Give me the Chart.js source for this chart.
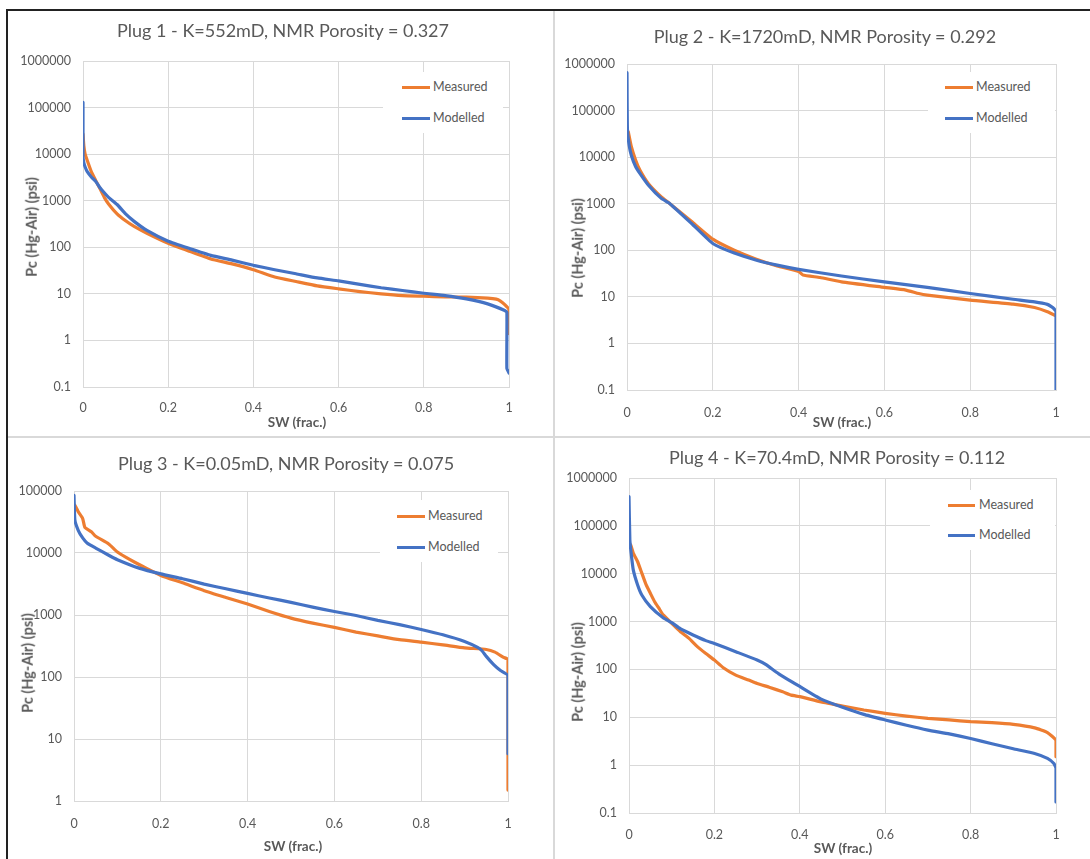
<!DOCTYPE html>
<html><head><meta charset="utf-8">
<script src="https://cdn.jsdelivr.net/npm/chart.js@4.4.1/dist/chart.umd.min.js"></script>
<style>
body{margin:0;background:#fff;}
#wrap{position:relative;width:1090px;height:859px;overflow:hidden;background:#fff;font-family:Lato,"Open Sans",sans-serif;color:#595959;}
.abs{position:absolute;}
.ctr{position:absolute;white-space:nowrap;transform:translate(-50%,-50%);line-height:1;}
.title{font-size:18px;}
.xt{font-size:13.5px;font-weight:bold;}
.yt{font-size:14.5px;font-weight:bold;transform:translate(-50%,-50%) rotate(-90deg);}
.lgbox{position:absolute;background:#fff;}
.lgline{position:absolute;height:3px;}
.lgtxt{position:absolute;font-size:12.5px;white-space:nowrap;transform:translateY(-50%);line-height:1;}
canvas{position:absolute;}
</style></head>
<body><div id="wrap"></div>
<script>
// ---------------- DATA ----------------
const titles = [
  "Plug 1 - K=552mD, NMR Porosity = 0.327",
  "Plug 2 - K=1720mD, NMR Porosity = 0.292",
  "Plug 3 - K=0.05mD, NMR Porosity = 0.075",
  "Plug 4 - K=70.4mD, NMR Porosity = 0.112"
];
const seriesNames = ["Measured", "Modelled"];
const xAxisTitle = "SW (frac.)";
const yAxisTitle = "Pc (Hg-Air) (psi)";
const xTicks = [0, 0.2, 0.4, 0.6, 0.8, 1];
const yTicksA = [0.1, 1, 10, 100, 1000, 10000, 100000, 1000000];
const yTicksB = [1, 10, 100, 1000, 10000, 100000];

const sw1Meas = [0, 0.002, 0.005, 0.01, 0.02, 0.03, 0.04, 0.05, 0.06, 0.08, 0.1, 0.12, 0.15, 0.2, 0.25, 0.3, 0.35, 0.4, 0.45, 0.5, 0.55, 0.6, 0.65, 0.7, 0.75, 0.8, 0.85, 0.9, 0.95, 0.97, 0.98, 0.99, 1.0, 1.0];
const pc1Meas = [27000, 15000, 10000, 7300, 4100, 2700, 1800, 1180, 850, 520, 370, 280, 200, 122, 82, 56, 44, 33, 23, 18.4, 14.8, 12.8, 11.2, 10, 9.2, 8.9, 8.6, 8.5, 8.1, 7.7, 7.0, 5.9, 4.6, 1.4];
const sw1Mod = [0, 0, 0.002, 0.005, 0.01, 0.02, 0.03, 0.04, 0.05, 0.06, 0.08, 0.1, 0.12, 0.15, 0.2, 0.25, 0.3, 0.35, 0.4, 0.45, 0.5, 0.55, 0.6, 0.65, 0.7, 0.75, 0.8, 0.85, 0.9, 0.95, 0.99, 0.995, 0.995, 1.0];
const pc1Mod = [130000, 9000, 6500, 5300, 4200, 3200, 2600, 1900, 1480, 1180, 830, 520, 360, 230, 135, 94, 67, 53, 41, 33, 27, 22, 19, 16, 13.5, 11.8, 10.3, 9.2, 7.8, 6.1, 4.4, 4.0, 0.25, 0.2];

const sw2Meas = [0.003, 0.01, 0.02, 0.03, 0.05, 0.08, 0.1, 0.15, 0.2, 0.25, 0.3, 0.35, 0.4, 0.41, 0.45, 0.5, 0.6, 0.65, 0.68, 0.7, 0.8, 0.9, 0.95, 0.98, 1.0];
const pc2Meas = [35000, 17000, 8700, 5300, 2700, 1400, 1000, 420, 173, 100, 65, 46, 35, 29.5, 26, 21, 16, 14, 11.8, 10.9, 8.5, 7, 5.9, 4.8, 3.9];
const sw2Mod = [0, 0.001, 0.005, 0.01, 0.02, 0.03, 0.05, 0.08, 0.1, 0.15, 0.2, 0.25, 0.3, 0.35, 0.4, 0.5, 0.6, 0.7, 0.8, 0.9, 0.95, 0.98, 0.99, 0.995, 1.0, 1.0];
const pc2Mod = [650000, 40000, 18000, 11000, 6300, 4500, 2500, 1300, 1000, 380, 140, 87, 62, 48, 39, 28, 21, 16, 11.8, 8.9, 7.8, 6.9, 6.1, 5.6, 4.8, 0.1];

const sw3Meas = [0.002, 0.01, 0.02, 0.025, 0.04, 0.05, 0.08, 0.1, 0.12, 0.14, 0.16, 0.2, 0.25, 0.3, 0.35, 0.4, 0.45, 0.5, 0.55, 0.6, 0.65, 0.7, 0.75, 0.8, 0.85, 0.9, 0.95, 0.97, 0.99, 1.0, 1.0];
const pc3Meas = [59000, 46000, 36000, 26000, 22000, 18600, 14000, 10400, 8500, 7100, 6000, 4350, 3300, 2470, 1920, 1500, 1140, 890, 740, 630, 530, 460, 400, 365, 330, 295, 278, 252, 207, 192, 1.5];
const sw3Mod = [0, 0.002, 0.01, 0.02, 0.03, 0.05, 0.08, 0.1, 0.15, 0.2, 0.25, 0.3, 0.35, 0.4, 0.45, 0.5, 0.55, 0.6, 0.65, 0.7, 0.75, 0.8, 0.85, 0.9, 0.93, 0.94, 0.95, 0.967, 0.982, 1.0, 1.0];
const pc3Mod = [85000, 34000, 23000, 17500, 14500, 12000, 9200, 7800, 5700, 4600, 3850, 3150, 2650, 2230, 1880, 1600, 1340, 1140, 980, 820, 700, 585, 480, 375, 300, 265, 215, 158, 128, 105, 5.8];

const sw4Meas = [0.004, 0.01, 0.02, 0.03, 0.04, 0.05, 0.06, 0.07, 0.08, 0.1, 0.12, 0.14, 0.16, 0.18, 0.2, 0.22, 0.25, 0.28, 0.3, 0.33, 0.36, 0.38, 0.4, 0.45, 0.5, 0.55, 0.6, 0.65, 0.7, 0.75, 0.8, 0.85, 0.9, 0.95, 0.98, 1.0, 1.0];
const pc4Meas = [40000, 27000, 18000, 10300, 5900, 3900, 2600, 1900, 1380, 920, 620, 450, 300, 215, 157, 110, 76, 60, 51, 42, 34, 29, 27, 21, 17.2, 14.2, 12.1, 10.6, 9.5, 8.8, 8.1, 7.7, 7.1, 6.0, 4.8, 3.3, 1.5];
const sw4Mod = [0, 0.002, 0.005, 0.01, 0.02, 0.03, 0.05, 0.08, 0.1, 0.12, 0.15, 0.18, 0.2, 0.25, 0.3, 0.32, 0.35, 0.4, 0.45, 0.5, 0.55, 0.6, 0.65, 0.7, 0.75, 0.8, 0.85, 0.9, 0.95, 0.98, 0.995, 1.0, 1.0];
const pc4Mod = [410000, 51000, 27000, 12000, 5900, 3600, 2060, 1200, 950, 710, 525, 400, 350, 235, 157, 127, 82, 44, 24, 16.2, 11.5, 8.8, 6.8, 5.4, 4.5, 3.6, 2.8, 2.2, 1.75, 1.38, 1.08, 0.85, 0.17];

// ---------------- LAYOUT ----------------
const ORANGE = "#ED7D31", BLUE = "#4472C4";
const panels = [
  {canvas:[9,11,543,425], plot:[83,61,509,387], yTicks:yTicksA, meas:[sw1Meas,pc1Meas], mod:[sw1Mod,pc1Mod],
   title:[283,30], xt:[297,423], yt:[32,227], lg:{box:[383,72,120,61], line:[402,430], txt:433, y:[87,118]}, xpad:13},
  {canvas:[556,11,534,425], plot:[627,64,1056,390], yTicks:yTicksA, meas:[sw2Meas,pc2Meas], mod:[sw2Mod,pc2Mod],
   title:[825,36], xt:[842,423], yt:[578,248], lg:{box:[928,72,127,61], line:[945,973], txt:976, y:[87,118]}, xpad:15},
  {canvas:[9,439,543,420], plot:[74,491,508,801], yTicks:yTicksB, meas:[sw3Meas,pc3Meas], mod:[sw3Mod,pc3Mod],
   title:[286,463], xt:[293,847], yt:[28,663], lg:{box:[380,500,118,62], line:[397,425], txt:428, y:[516,547]}, xpad:15},
  {canvas:[556,439,534,420], plot:[629,478,1056,813], yTicks:yTicksA, meas:[sw4Meas,pc4Meas], mod:[sw4Mod,pc4Mod],
   title:[837,457], xt:[843,849], yt:[578,672], lg:{box:[930,490,125,60], line:[948,975], txt:979, y:[505,535]}, xpad:14}
];

const wrap = document.getElementById('wrap');
function el(tag, cls, css, text){ const e=document.createElement(tag); if(cls) e.className=cls; Object.assign(e.style, css||{}); if(text!=null) e.textContent=text; wrap.appendChild(e); return e; }

// frame lines
el('div','abs',{left:'6px',top:'9px',width:'1084px',height:'2px',background:'#222'});
el('div','abs',{left:'6px',top:'9px',width:'2px',height:'850px',background:'#222'});
el('div','abs',{left:'553px',top:'11px',width:'2px',height:'848px',background:'#d9d9d9'});
el('div','abs',{left:'8px',top:'436px',width:'1082px',height:'2px',background:'#d9d9d9'});

function toPts(xs, ys){ return xs.map((x,i)=>({x:x, y:ys[i]})); }

panels.forEach((p, idx) => {
  const [cx, cy, cw, ch] = p.canvas;
  const [pl, pt, pr, pb] = p.plot;
  const cv = el('canvas', null, {left:cx+'px', top:cy+'px', width:cw+'px', height:ch+'px'});
  cv.width = cw; cv.height = ch;
  const yW = pl - cx, xH = (cy + ch) - pb;
  const yt = p.yTicks;
  new Chart(cv.getContext('2d'), {
    type: 'line',
    data: { datasets: [
      { label: seriesNames[0], data: toPts(p.meas[0], p.meas[1]), borderColor: ORANGE, borderWidth: 3.2, pointRadius: 0, tension: 0.15, order: 2, borderJoinStyle:'round', borderCapStyle:'round' },
      { label: seriesNames[1], data: toPts(p.mod[0], p.mod[1]), borderColor: BLUE, borderWidth: 3.2, pointRadius: 0, tension: 0.15, order: 1, borderJoinStyle:'round', borderCapStyle:'round' }
    ]},
    options: {
      responsive: false, animation: false, devicePixelRatio: 1,
      layout: { padding: { left: 0, top: pt - cy, right: (cx + cw) - pr, bottom: 0 } },
      plugins: { legend: { display: false }, title: { display: false }, tooltip: { enabled: false } },
      scales: {
        x: { type: 'linear', min: 0, max: 1,
             afterBuildTicks: s => { s.ticks = xTicks.map(v => ({value: v})); },
             afterFit: s => { s.height = xH; },
             ticks: { callback: v => String(+v.toFixed(1)), color: '#595959', font: { family: 'Lato', size: 12.5 }, padding: p.xpad, maxRotation: 0, autoSkip: false },
             grid: { color: '#d9d9d9', lineWidth: 1, drawTicks: false },
             border: { display: true, color: '#d9d9d9' } },
        y: { type: 'logarithmic', min: yt[0], max: yt[yt.length-1],
             afterBuildTicks: s => { s.ticks = yt.map(v => ({value: v})); },
             afterFit: s => { s.width = yW; },
             ticks: { callback: v => String(v), color: '#595959', font: { family: 'Lato', size: 12.5 }, padding: 12, autoSkip: false },
             grid: { color: '#d9d9d9', lineWidth: 1, drawTicks: false },
             border: { display: true, color: '#d9d9d9' } }
      }
    }
  });
  // legend (inside plot, white box over gridlines)
  const lg = p.lg;
  el('div','lgbox',{left:lg.box[0]+'px', top:lg.box[1]+'px', width:lg.box[2]+'px', height:lg.box[3]+'px'});
  [ORANGE, BLUE].forEach((c, k) => {
    el('div','lgline',{left:lg.line[0]+'px', top:(lg.y[k]-1.5)+'px', width:(lg.line[1]-lg.line[0])+'px', background:c});
    el('div','lgtxt',{left:lg.txt+'px', top:lg.y[k]+'px'}, seriesNames[k]);
  });
  el('div','ctr title',{left:p.title[0]+'px', top:p.title[1]+'px'}, titles[idx]);
  el('div','ctr xt',{left:p.xt[0]+'px', top:p.xt[1]+'px'}, xAxisTitle);
  el('div','ctr yt',{left:p.yt[0]+'px', top:p.yt[1]+'px'}, yAxisTitle);
});
</script>
</body></html>
